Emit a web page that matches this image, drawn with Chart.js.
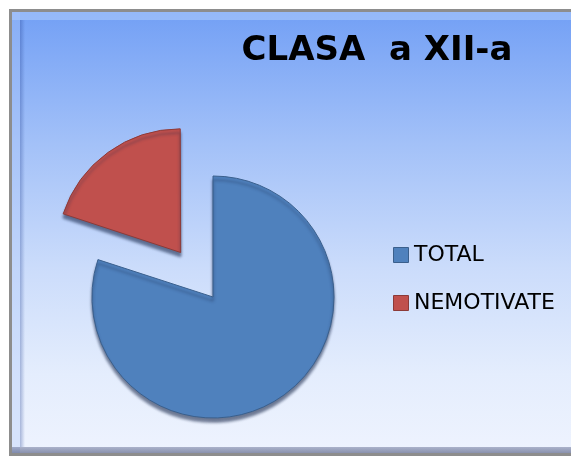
<!DOCTYPE html>
<html>
<head>
<meta charset="utf-8">
<script src="https://cdn.jsdelivr.net/npm/chart.js@4.4.1/dist/chart.umd.min.js"></script>
<style>
  html, body { margin: 0; padding: 0; background: #ffffff; width: 571px; height: 459px; overflow: hidden; }
  #frame {
    position: absolute; left: 9px; top: 9px; width: 600px; height: 441px;
    border: 3px solid #8d8d8d; border-right: none;
    background: linear-gradient(to bottom, #73a0f5 0%, #a3c1f8 30%, #cbdcfb 58%, #e4edfd 82%, #eef3fe 100%);
  }
  #bevelTop { position: absolute; left: 0; top: 0; right: 0; height: 8px; background: rgba(190,215,255,0.45); }
  #bevelLeft { position: absolute; left: 0; top: 0; width: 8px; bottom: 0; background: rgba(175,200,250,0.35); }
  #bevelLine { position: absolute; left: 8px; top: 8px; width: 5px; bottom: 6px;
    background: linear-gradient(to right, rgba(40,70,150,0.35), rgba(40,70,150,0)); }
  #bevelBottom { position: absolute; left: 0; right: 0; bottom: 0; height: 6px;
    background: linear-gradient(to bottom, rgba(90,100,140,0.45), rgba(70,80,120,0.6)); }
  #wrap { position: absolute; left: 0; top: 0; width: 571px; height: 459px; }
</style>
</head>
<body>
<div id="frame"><div id="bevelTop"></div><div id="bevelLeft"></div><div id="bevelLine"></div><div id="bevelBottom"></div></div>
<div id="wrap"><canvas id="c"></canvas></div>
<script>
// ---- data ----
const chartTitle = 'CLASA  a XII-a';
const categories = ['TOTAL', 'NEMOTIVATE'];
const values = [80, 20];

// ---- styles / layout ----
const sliceColors = ['#4f81bd', '#c0504d'];
const sliceBorders = ['#3a5f8c', '#8c3a38'];
const sliceOffsets = [0, 220];            // Chart.js v4 draws offset/4
const titleFont = { family: 'DejaVu Sans', size: 34, weight: 'bold', lineHeight: 1.2 };
const legendFont = { family: 'DejaVu Sans', size: 22 };
const legendPad = 26, legendBoxW = 4;
const legendLeft = 373;                    // left edge of legend block
const pieLeftPad = 53;
const titleCenterX = 377;

function textWidth(str, font) {
  const c = document.createElement('canvas').getContext('2d');
  c.font = (font.weight ? font.weight + ' ' : '') + font.size + 'px ' + font.family;
  return c.measureText(str).width;
}
const legendWidth = legendPad + legendBoxW + legendFont.size / 2 + 10 +
  Math.max.apply(null, categories.map(s => textWidth(s, legendFont)));
const rightPad = 571 - legendLeft - legendWidth;

const rimShadow = {
  id: 'rimShadow',
  beforeDatasetsDraw(chart) {
    const ctx = chart.ctx;
    ctx.save();
    ctx.shadowColor = 'rgba(25,40,75,0.6)';
    ctx.shadowOffsetY = 4;
    ctx.shadowBlur = 3;
  },
  afterDatasetsDraw(chart) { chart.ctx.restore(); }
};

const titlePlacement = {
  id: 'titlePlacement',
  afterLayout(chart) {
    const t = chart.titleBlock;
    if (t) { t.left = titleCenterX - 160; t.right = titleCenterX + 160; }
  }
};

new Chart(document.getElementById('c'), {
  type: 'pie',
  data: {
    labels: categories,
    datasets: [{
      data: values,
      backgroundColor: sliceColors,
      borderColor: sliceBorders,
      borderWidth: 1,
      offset: sliceOffsets
    }]
  },
  plugins: [rimShadow, titlePlacement],
  options: {
    responsive: true,
    maintainAspectRatio: false,
    animation: false,
    radius: 121,
    cutout: '0%',
    layout: { padding: { left: pieLeftPad, right: rightPad, top: 10, bottom: 119 } },
    plugins: {
      tooltip: { enabled: false },
      title: {
        display: true,
        text: chartTitle,
        align: 'center',
        color: '#000000',
        font: titleFont,
        padding: { top: 20.7, bottom: 182.5 }
      },
      legend: {
        display: true,
        position: 'right',
        align: 'end',
        labels: {
          usePointStyle: true,
          pointStyle: 'rect',
          boxWidth: legendBoxW,
          boxHeight: 15,
          padding: legendPad,
          textAlign: 'left',
          color: '#000000',
          font: legendFont
        }
      }
    }
  }
});
</script>
</body>
</html>
